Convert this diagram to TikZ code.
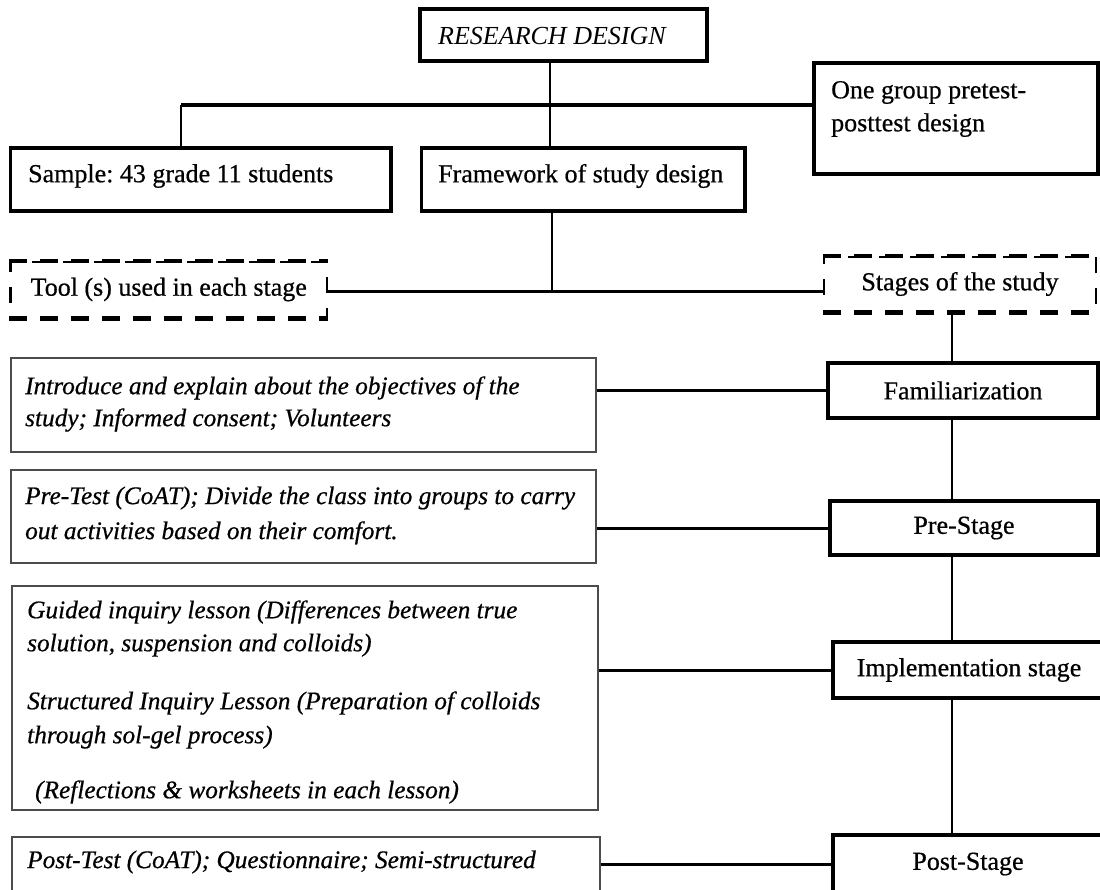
\documentclass[tikz,border=0pt]{standalone}
\usepackage{fontspec}
\setmainfont{Liberation Serif}[UprightFeatures={FakeBold=0.6},ItalicFeatures={FakeBold=0.6}]
\newfontfamily\plainserif{Liberation Serif}
\frenchspacing
\begin{document}
\begin{tikzpicture}[x=1pt,y=-1pt,
  every node/.style={font=\fontsize{26}{33}\selectfont, inner sep=0pt},
  topbox/.style={draw=black, line width=3.5pt, fill=white},
  stagebox/.style={draw=black, line width=3.5pt, fill=white, align=center},
  textbox/.style={draw=black!70, line width=2pt, fill=white},
  dashbox/.style={draw=black, line width=2.5pt, dash pattern=on 16pt off 15pt, fill=white, align=center},
  dashedge/.style={draw=black, line width=4.5pt, dash pattern=on 18pt off 13pt},
  lbl/.style={anchor=west, align=left},
  ilbl/.style={anchor=west, align=left, font=\fontsize{25.3}{33}\selectfont\itshape},
  conn/.style={draw=black, line width=2.5pt},
  hconn/.style={draw=black, line width=3pt},
]
\clip (0,0) rectangle (1100,889);
\fill[white] (0,0) rectangle (1100,889);

% upper level
\node[topbox, minimum width=287pt, minimum height=52pt] (rd) at (563.5,35) {};
\node[anchor=west, font=\fontsize{26}{33}\selectfont\plainserif\itshape] (rdt) at (438,36) {RESEARCH DESIGN};
\node[topbox, minimum width=284pt, minimum height=111pt] (og) at (956,118.5) {};
\node[lbl] (ogt) at (831,109) {One group pretest-\\posttest design};
\node[topbox, minimum width=380.5pt, minimum height=63pt] (sample) at (200.75,179.5) {};
\node[lbl] (samplet) at (28,176) {Sample: 43 grade 11 students};
\node[topbox, minimum width=323.4pt, minimum height=63pt] (fw) at (583.3,179.5) {};
\node[lbl] (fwt) at (438,176) {Framework of study design};

% dashed headings
\node[dashbox, minimum width=316.5pt, minimum height=55pt] (tool) at (168.75,289.5) {Tool (s) used in each stage};
\draw[dashedge] (tool.north west) -- (tool.north east);
\draw[dashedge] (tool.south west) -- (tool.south east);
\node[dashbox, minimum width=272pt, minimum height=54pt] (stages) at (960,284) {Stages of the study};
\draw[dashedge] (stages.north west) -- (stages.north east);
\draw[dashedge] (stages.south west) -- (stages.south east);

% tools per stage
\node[textbox, minimum width=585.5pt, minimum height=94pt] (t1) at (303.25,405) {};
\node[ilbl] (t1t) at (25,404) {Introduce and explain about the objectives of the\\[-1pt]study; Informed consent; Volunteers};
\node[textbox, minimum width=585.5pt, minimum height=93pt] (t2) at (303.25,516.5) {};
\node[ilbl] (t2t) at (25,515.5) {Pre-Test (CoAT); Divide the class into groups to carry\\[2pt]out activities based on their comfort.};
\node[textbox, minimum width=586pt, minimum height=224pt] (t3) at (305,698) {};
\node[ilbl] (t3t) at (27,702) {Guided inquiry lesson (Differences between true\\
solution, suspension and colloids)\\[25pt]
Structured Inquiry Lesson (Preparation of colloids\\[1pt]
through sol-gel process)\\[22pt]
\hspace*{8pt}(Reflections \& worksheets in each lesson)};
\node[textbox, minimum width=588pt, minimum height=58pt] (t4) at (306,866) {};
\node[ilbl] (t4t) at (27,862) {Post-Test (CoAT); Questionnaire; Semi-structured};

% stages
\node[stagebox, minimum width=270pt, minimum height=55pt] (fam) at (963,390.5) {Familiarization};
\node[stagebox, minimum width=268pt, minimum height=54pt] (pre) at (964,528) {Pre-Stage};
\node[stagebox, minimum width=272pt, minimum height=56pt] (impl) at (969,670) {Implementation stage};
\node[stagebox, minimum width=270pt, minimum height=58pt] (post) at (968,864) {Post-Stage};

% junction points
\coordinate (j1) at (550,105);
\coordinate (jl) at (181,105);
\coordinate (j2) at (552,291);
\coordinate (sp) at (952,0);

% connectors of the upper level
\draw[conn] (j1) -- (j1 |- rd.south);
\draw[draw=black, line width=4pt] (jl) -- (og.west |- j1);
\draw[conn] (jl) -- (jl |- sample.north);
\draw[conn] (j1) -- (j1 |- fw.north);
\draw[conn] (j2 |- fw.south) -- (j2);
\draw[hconn] (tool.east |- j2) -- (stages.west |- j2);

% spine of stages
\draw[conn] (stages.south -| sp) -- (fam.north -| sp);
\draw[conn] (fam.south -| sp) -- (pre.north -| sp);
\draw[conn] (pre.south -| sp) -- (impl.north -| sp);
\draw[conn] (impl.south -| sp) -- (post.north -| sp);

% tools to stages
\draw[hconn] (t1.east |- fam.west) -- (fam.west);
\draw[hconn] (t2.east |- pre.west) -- (pre.west);
\draw[hconn] (t3.east |- impl.west) -- (impl.west);
\draw[hconn] (t4.east |- post.west) -- (post.west);
\end{tikzpicture}
\end{document}
